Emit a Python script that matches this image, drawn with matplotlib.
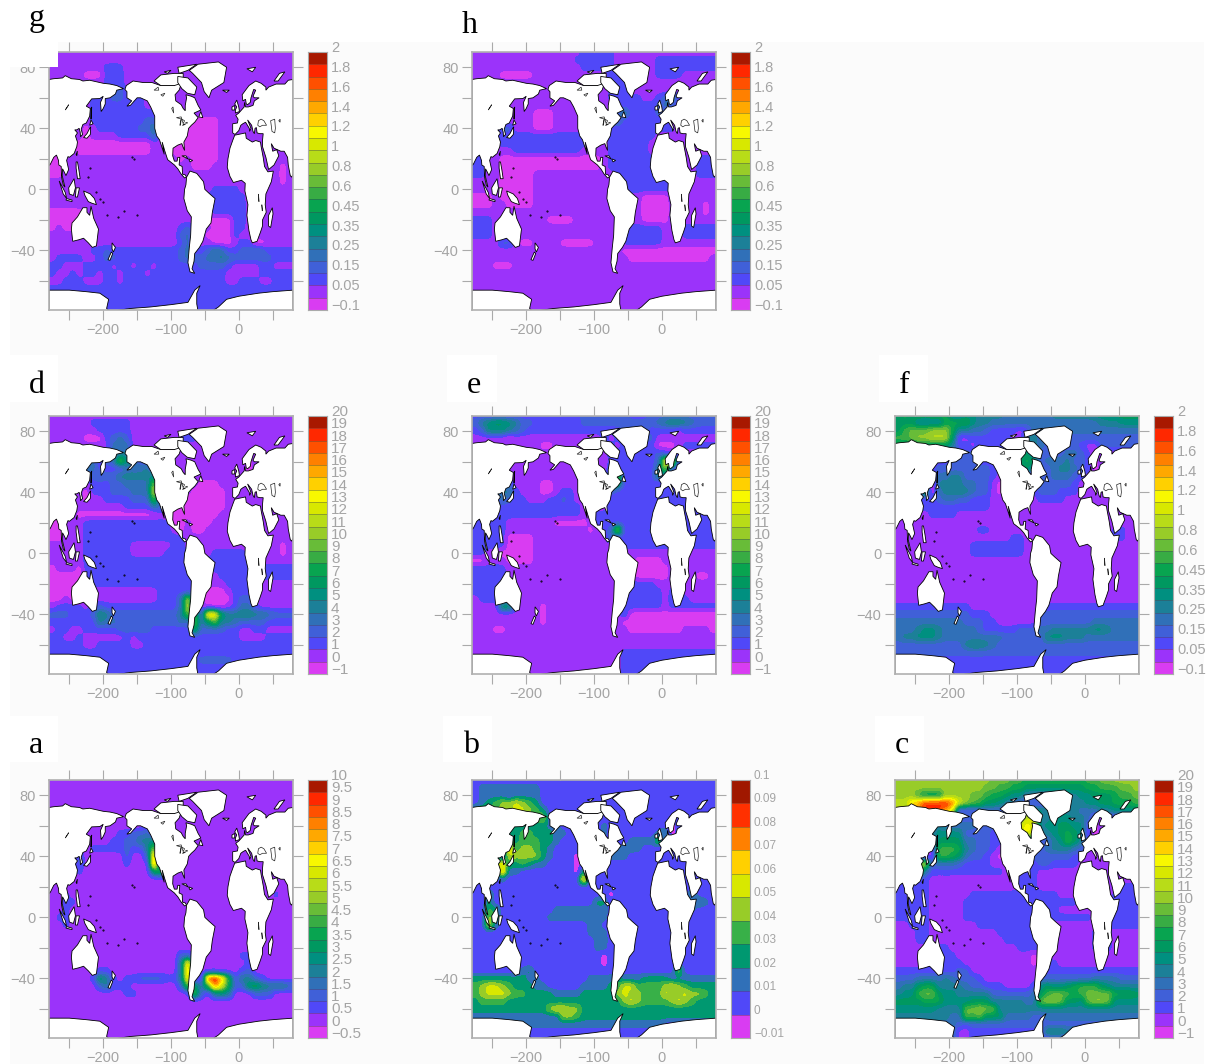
"""
Eight global ocean maps (a-h), one colour bar each.
Fields are read off the picture on a coarse grid: one character per node = colour band index.
"""

import numpy as np
import matplotlib
matplotlib.use("Agg")
import matplotlib.pyplot as plt
from matplotlib.colors import ListedColormap, BoundaryNorm
from matplotlib.patches import Rectangle, Polygon

W, H = 1210, 1064
plt.rcParams["font.family"] = ["Liberation Sans", "DejaVu Sans"]

# grid: rows run from 90N down to 80S every 5 deg, 36 columns from -275 to 75
# short rows are continued with their last character

FIELD_A = ["1", "1", "1", "1", "1", "1", "1",
    "1"*10 + "22334" + "1",
    "1"*9 + "2233556" + "1",
    "111111" + "222" + "22" + "3" + "22" + "5" + "b" + "1",
    "1111" + "3" + "111111" + "3" + "11" + "3" + "h" + "1",
    "1111" + "3" + "111111" + "2" + "111" + "i" + "2" + "1",
    "1111" + "2" + "1"*10 + "7" + "9" + "1",
    "1", "1",
    "112" + "1"*30 + "21",
    "1122" + "1", "1121", "1221", "1121", "1", "1", "1",
    "1"*19 + "33" + "1"*7 + "22" + "1",
    "1"*19 + "5g" + "1"*8 + "2" + "1",
    "1"*7 + "22" + "1"*10 + "5h" + "1"*7 + "23" + "1",
    "111111" + "2752" + "1" + "22333322" + "5g" + "11" + "jkg9" + "2" + "55" + "3" + "21",
    "1"*7 + "35222" + "1"*7 + "3a749hd8" + "33786555" + "4",
    "1"*11 + "22" + "1"*8 + "a3" + "1" + "565" + "111" + "333" + "1",
    "1", "1", "1", "1", "1", "1"]

FIELD_B = ["1",
    "1222222222" + "1",
    "1222212222" + "1",
    "1234556543" + "1",
    "4444556654" + "3" + "1",
    "333333333452" + "1",
    "33333" + "233333" + "22" + "1"*6 + "2" + "1"*9 + "0" + "1",
    "33333" + "3344333" + "22" + "11111" + "2" + "1"*7 + "23" + "0" + "1",
    "33333" + "4" + "344433" + "2" + "1"*10 + "2222" + "4" + "1",
    "33333" + "7" + "455432" + "1"*9 + "2222" + "1",
    "333" + "5065" + "5553" + "2" + "111" + "0" + "1111" + "222" + "1",
    "333" + "573" + "3432" + "2" + "1111" + "0" + "1",
    "222" + "2" + "8" + "22" + "1"*8 + "0" + "3" + "1",
    "11112" + "1"*11 + "8" + "1",
    "1",
    "113" + "1"*17 + "0" + "1"*11 + "3" + "1",
    "113" + "1"*15 + "33" + "1"*13 + "32" + "1",
    "1143" + "1"*8 + "2"*8 + "1"*12 + "2" + "1",
    "1154" + "1"*7 + "2"*8 + "2" + "1",
    "1162" + "1"*13 + "22" + "1",
    "1"*17 + "222" + "1",
    "1"*18 + "22" + "1",
    "1"*18 + "22" + "1",
    "1"*19 + "0" + "1",
    "1"*19 + "0" + "1",
    "1"*7 + "23" + "1"*21 + "5" + "1",
    "33333333" + "22" + "1"*7 + "2222" + "3" + "222333322" + "2",
    "456654" + "333" + "22" + "111112" + "222" + "3" + "466" + "4444" + "5654" + "3",
    "4" + "56665" + "443333" + "22223333" + "3" + "565" + "5" + "444" + "65" + "565" + "543",
    "344443" + "3"*16 + "565" + "444" + "456543" + "33",
    "3"*11 + "5665" + "53" + "3",
    "2"*13 + "554" + "3",
    "2"*28 + "1",
    "1", "1"]

FIELD_C = ["bbbbbbbbbbbbbbaaa9988888888899aabbbb",
    "bbbbbbbbbbbbbaa998877777777788999aab",
    "bbb9777bbbbaa9887664433335566777899a",
    "ccfgjjjjhdba977654322233445566778889",
    "ccdhjjjhe" + "2223" + "333333" + "766" + "55" + "5554" + "445" + "56666",
    "3333333" + "33" + "333" + "33" + "3333" + "ad" + "d" + "5" + "5" + "6" + "6655" + "4" + "1" + "1",
    "5555555" + "4" + "4444" + "3333" + "33" + "ded" + "566" + "7766" + "2" + "0" + "1",
    "555555" + "6666" + "3333" + "22" + "22" + "eed" + "4" + "5" + "678" + "76" + "2" + "0" + "1",
    "222222" + "7777" + "4433" + "22" + "22222" + "3" + "3" + "5" + "69" + "75" + "2" + "1",
    "111111" + "9998" + "5433" + "21" + "11111" + "3" + "45" + "55" + "43" + "2" + "1",
    "11111" + "1" + "9987" + "4332" + "10" + "1111" + "33333322" + "1",
    "222" + "cc" + "3" + "4443" + "2222" + "111" + "111" + "2" + "3322" + "22" + "1",
    "222" + "b4" + "2222" + "2222" + "222" + "1" + "11" + "2" + "2" + "1",
    "22222" + "1"*13 + "22" + "2" + "1",
    "22222" + "1"*13 + "222" + "1"*12 + "222",
    "22222" + "1"*6 + "2"*7 + "2"*6 + "1"*8 + "2222",
    "22222" + "11111" + "2"*10 + "2"*7 + "11111" + "2222",
    "22222" + "11111" + "2"*10 + "2222" + "111" + "11111" + "2222",
    "22222" + "11111" + "2"*10 + "2"*9 + "111" + "2222",
    "11222" + "1"*7 + "2"*8 + "22" + "1"*10 + "2222",
    "11122" + "1"*10 + "2"*5 + "22" + "1"*7 + "222" + "1111",
    "11122" + "1"*11 + "2222" + "22" + "1"*7 + "222" + "1111",
    "11111" + "222" + "1"*10 + "22" + "22" + "1"*7 + "222" + "1111",
    "11111" + "2222" + "1"*11 + "0" + "1",
    "11111" + "22222" + "1"*10 + "0" + "1" + "22" + "1",
    "2"*9 + "33" + "1"*10 + "2",
    "3334444" + "54" + "3332" + "1"*7 + "1" + "3333333" + "3" + "4444" + "333",
    "455788" + "55" + "55" + "433" + "222" + "1111" + "2" + "67" + "66" + "78" + "99" + "9" + "765" + "555",
    "5669aa" + "766" + "555" + "55" + "33" + "3333" + "4" + "79aa98" + "9a" + "aaa" + "888" + "7",
    "7777888" + "6666" + "777" + "55555" + "44" + "abba" + "776" + "ab" + "ba" + "6666",
    "666666" + "5555" + "aabaa" + "5",
    "5"*8 + "44" + "a9a" + "777" + "4444" + "33" + "4",
    "4"*9 + "3233" + "3",
    "4"*9 + "112" + "2"*10 + "66655" + "4",
    "4"*9 + "112" + "2"]

FIELD_D = ["1",
    "111111222222" + "1",
    "111111122222" + "1",
    "11111" + "000" + "2" + "34" + "3" + "1"*7 + "222" + "1",
    "1"*9 + "444" + "1",
    "1"*8 + "3" + "44" + "5" + "1",
    "11111" + "44" + "2" + "3" + "4" + "a" + "6" + "4" + "3" + "2" + "1"*14 + "0" + "1",
    "11111" + "44" + "2222" + "4445" + "2" + "1"*13 + "0" + "1",
    "11111" + "2" + "34" + "33" + "55" + "555" + "6" + "1",
    "111111" + "2" + "223" + "34" + "444" + "b" + "1"*6 + "000" + "1",
    "11111" + "0" + "222" + "33" + "344" + "4" + "d" + "1" + "1"*4 + "00000" + "1",
    "11111" + "0" + "112" + "22" + "233" + "3" + "a" + "1" + "111" + "000000" + "1",
    "111111" + "111" + "1122" + "22" + "44" + "1" + "00" + "000000" + "1",
    "11110" + "0"*10 + "0" + "1" + "000" + "00000" + "1",
    "0011" + "1" + "2"*10 + "222" + "00" + "1" + "000" + "1",
    "00111" + "2"*13 + "1" + "0" + "1" + "00" + "1",
    "00111" + "2"*13 + "22" + "1",
    "11111" + "2"*7 + "1"*6 + "22" + "1"*14 + "0" + "1",
    "11111" + "2"*7 + "11111" + "222" + "2" + "111" + "22222" + "111" + "11" + "0" + "1",
    "11111" + "2"*14 + "2" + "2" + "2" + "2"*8 + "111111",
    "01110" + "2"*15 + "22" + "2"*8 + "1" + "22222",
    "00000" + "2"*15 + "22" + "2" + "11" + "2222" + "2" + "1" + "22222",
    "00000" + "1" + "2"*14 + "22" + "2" + "111" + "222" + "2" + "1",
    "00000" + "11" + "1"*9 + "2222" + "22" + "1" + "000" + "1" + "22" + "2" + "1",
    "00100" + "11" + "1"*9 + "222" + "4c" + "11" + "000" + "0" + "2" + "33" + "1",
    "12222" + "1232" + "2" + "2"*9 + "4d" + "11" + "000" + "1" + "2" + "44" + "2" + "1",
    "3332" + "22" + "3" + "65" + "3" + "3"*9 + "5a9" + "3" + "gf7" + "55" + "66" + "55" + "43" + "3",
    "2222" + "222" + "54" + "4" + "3"*9 + "43a4" + "7a5" + "54" + "3333" + "2",
    "12211" + "2222" + "2" + "3" + "3333" + "22222" + "2" + "83" + "333" + "22" + "1122" + "1",
    "22112" + "1" + "111" + "11" + "2" + "1" + "2"*7 + "222" + "2"*5 + "1111" + "2",
    "2"*5 + "11222" + "22" + "11" + "2",
    "2", "2"*22 + "33333" + "2", "2", "2"]

FIELD_E = ["2"*16 + "3"*7 + "222" + "33333" + "3",
    "3567765332" + "2"*6 + "33333" + "3" + "33333" + "4566" + "543" + "3",
    "2366654322" + "2"*12 + "3" + "33" + "3" + "2222" + "1" + "2",
    "1"*5 + "0" + "1"*13 + "2" + "1" + "2" + "22" + "333" + "1",
    "1"*10 + "00" + "1"*7 + "2" + "21" + "22" + "222" + "0" + "00" + "1" + "2",
    "1"*20 + "2" + "2222" + "22" + "3" + "2" + "1",
    "1"*20 + "222" + "2222" + "3" + "e" + "h" + "2" + "1",
    "1"*20 + "2"*6 + "2" + "5" + "b" + "3" + "1",
    "1"*20 + "7b" + "22222" + "6" + "3" + "1",
    "111" + "1" + "2" + "3" + "1111" + "00" + "1"*8 + "c8" + "22222" + "1" + "2",
    "111" + "355" + "2" + "11" + "1" + "00" + "12" + "2" + "1" + "1111" + "3" + "2",
    "222" + "343" + "22" + "11" + "1" + "22" + "3" + "2" + "1" + "1111" + "2",
    "2"*16 + "1"*4 + "2",
    "2"*16 + "11" + "2",
    "22222" + "11111" + "11" + "0000" + "0" + "1" + "2",
    "22222" + "1"*12 + "0" + "1" + "2" + "3" + "c" + "2222" + "3" + "2",
    "22222" + "0000" + "1"*11 + "4" + "2",
    "22222" + "0000" + "1"*12 + "2",
    "2211" + "00000" + "1"*12 + "1",
    "00111" + "0000" + "1"*15 + "0000" + "1",
    "22222" + "1"*19 + "00000" + "1",
    "22222" + "1"*19 + "00000" + "1111" + "00" + "1",
    "22222" + "1"*17 + "22222" + "1"*3 + "2" + "1",
    "22222" + "1"*17 + "222222" + "1" + "22" + "1",
    "12222" + "1"*17 + "222222" + "1" + "222" + "11" + "1",
    "1111" + "77" + "2" + "111" + "0" + "1"*11 + "222222" + "1" + "2",
    "1"*10 + "0" + "1"*11 + "3" + "0",
    "1"*10 + "0" + "1"*11 + "0",
    "111" + "00" + "1"*18 + "0"*8 + "1111" + "0",
    "1", "1",
    "1"*22 + "2", "1"*22 + "2", "1"*22 + "2", "1"*22 + "2"]

FIELD_F = ["7878788" + "8" + "5566" + "5555" + "44444" + "4455555" + "5" + "6677777",
    "777" + "5555" + "8888" + "6554" + "444444" + "444444444" + "555666",
    "7" + "9aaab" + "bb" + "85" + "54" + "4" + "322" + "22" + "1" + "2" + "444" + "3" + "4",
    "99" + "abbcc" + "c" + "7" + "11" + "22" + "2222" + "11" + "55" + "4" + "3",
    "7777" + "7777" + "5" + "22" + "1" + "2" + "222222" + "55" + "4" + "33333" + "2" + "11" + "3",
    "3"*18 + "67" + "4" + "3" + "333" + "44" + "3" + "2" + "0" + "1",
    "222222" + "22" + "33" + "33" + "22" + "222" + "2" + "787" + "3" + "44" + "45" + "33" + "2" + "0" + "1",
    "222222" + "3333" + "3333" + "22" + "22" + "67" + "5" + "2" + "3" + "4" + "55" + "4" + "3" + "2" + "0" + "1",
    "22222" + "1" + "4455" + "3333" + "21" + "11111" + "33" + "44" + "4" + "3" + "2" + "1",
    "11111" + "0" + "5555" + "4433" + "10" + "11111" + "3" + "333" + "3" + "2" + "1",
    "111" + "29" + "0" + "4556" + "5433" + "1" + "0" + "1111" + "2" + "333" + "222" + "1",
    "1112" + "22" + "3443" + "3222" + "111" + "111" + "1" + "2222" + "1",
    "11122" + "2"*9 + "1",
    "11111" + "2222" + "1",
    "1",
    "1"*12 + "22" + "1"*18 + "22" + "1",
    "1"*17 + "22" + "1"*13 + "22" + "1",
    "1"*11 + "2"*8 + "1",
    "1"*11 + "2"*8 + "1",
    "1", "1", "1", "1", "1", "1",
    "2"*11 + "1"*11 + "2",
    "3"*11 + "222" + "1"*7 + "3",
    "4"*10 + "33322" + "11111" + "1" + "3"*8 + "4",
    "444" + "566" + "5" + "44444" + "3" + "22222" + "33" + "3" + "44" + "55" + "555" + "566" + "5" + "4",
    "455" + "666" + "54" + "4" + "4"*7 + "3333" + "33" + "66" + "6" + "55" + "5" + "4",
    "3"*10 + "566" + "54" + "3",
    "3", "2", "2", "2"]

FIELD_G = ["1", "1",
    "1"*8 + "222" + "1",
    "11111000" + "222" + "1",
    "1"*8 + "222" + "1",
    "1"*9 + "33" + "2" + "1",
    "111111" + "222" + "33" + "222" + "1",
    "111111" + "2"*8 + "1",
    "111111" + "2"*9 + "2" + "1",
    "111111" + "2"*8 + "33" + "1"*5 + "0000" + "1",
    "11111" + "0" + "1" + "22222" + "2" + "33" + "5" + "1111" + "00000" + "1",
    "11111" + "0" + "1" + "1" + "11" + "2222" + "2" + "4" + "111" + "1" + "00000" + "1",
    "11110" + "0"*10 + "1" + "11" + "00" + "00000" + "1",
    "11110" + "0"*10 + "111" + "00" + "00000" + "1",
    "00111" + "1"*13 + "1" + "0" + "1" + "0000" + "1",
    "00" + "1"*19 + "000" + "1"*10 + "0" + "1",
    "00" + "1"*32 + "0" + "1",
    "1"*34 + "0" + "1",
    "1"*24 + "2222" + "1",
    "1"*23 + "222222" + "1",
    "1"*22 + "2222222" + "1",
    "00000" + "1"*17 + "2" + "1" + "22222" + "1",
    "00000" + "1"*17 + "1" + "0" + "000" + "22" + "1",
    "01000" + "1"*14 + "2" + "3" + "111" + "000" + "22" + "1",
    "1"*19 + "34" + "11" + "0000" + "2" + "1",
    "1"*19 + "24" + "111" + "000" + "1" + "22" + "00" + "1",
    "111111" + "22" + "3" + "2" + "2"*9 + "34" + "22" + "354" + "22" + "33" + "4" + "3" + "2",
    "1222211" + "233" + "2"*9 + "34" + "33" + "445" + "43" + "333" + "33" + "2",
    "22111" + "22" + "22" + "1" + "22" + "1" + "22" + "1" + "22222" + "2" + "3" + "333" + "2" + "1111" + "22" + "1",
    "21121221221" + "2221" + "2"*11 + "11111" + "2",
    "11222111221" + "2"*15 + "11" + "222" + "11" + "2",
    "2", "2", "2", "2"]

FIELD_H = ["1"*16 + "22222" + "1",
    "1"*15 + "2"*6 + "1"*6 + "2",
    "1"*16 + "2"*5 + "1"*6 + "2",
    "1111" + "00000" + "1"*11 + "22" + "1"*5 + "2222" + "1",
    "1"*20 + "222" + "1",
    "1"*20 + "222" + "1",
    "1"*20 + "2222" + "2" + "11" + "2" + "3" + "6" + "2" + "1",
    "1"*21 + "2222" + "22" + "3" + "4" + "3" + "1",
    "1"*9 + "000" + "1"*8 + "2" + "3" + "5" + "22" + "22" + "3" + "2" + "1",
    "1"*9 + "000" + "1"*8 + "3" + "4" + "2" + "2"*6 + "1",
    "1111" + "33" + "1" + "11" + "000" + "1"*8 + "2"*10 + "1",
    "1112" + "22" + "2"*11 + "111" + "2"*6 + "2" + "1",
    "1111" + "22" + "2"*11 + "111" + "2"*6 + "1",
    "111111" + "2"*10 + "111" + "1" + "2"*6 + "1",
    "2211" + "0"*15 + "1" + "2"*6 + "2" + "1"*6 + "222",
    "2211" + "0"*15 + "1" + "2"*5 + "2" + "2" + "1"*6 + "222",
    "2211" + "00000" + "1"*11 + "1" + "2"*6 + "1"*6 + "222",
    "1111" + "00000" + "1"*12 + "2"*8 + "1",
    "1111" + "00000" + "1"*14 + "2" + "22" + "2222" + "1",
    "0001" + "00000" + "1"*16 + "0000" + "1",
    "00011" + "0000" + "1"*16 + "0000" + "1"*5 + "0" + "1",
    "1"*25 + "0000" + "1"*5 + "0" + "1",
    "222" + "1"*8 + "0000" + "1"*10 + "0000" + "1",
    "222" + "1"*19 + "22222" + "2" + "111" + "2",
    "222" + "1"*19 + "22222" + "2" + "111" + "2",
    "1111" + "33" + "1" + "00" + "1111" + "0000" + "0" + "1111" + "22222" + "2" + "1",
    "1"*22 + "0",
    "1"*23 + "0"*12 + "1",
    "111" + "000" + "1",
    "1", "1", "1", "1", "1", "1"]

LABELS_10 = ["10", "9.5", "9", "8.5", "8", "7.5", "7", "6.5", "6", "5.5", "5", "4.5", "4",
             "3.5", "3", "2.5", "2", "1.5", "1", "0.5", "0", "\u22120.5"]
LABELS_20 = ["20", "19", "18", "17", "16", "15", "14", "13", "12", "11", "10", "9", "8", "7",
             "6", "5", "4", "3", "2", "1", "0", "\u22121"]
LABELS_2 = ["2", "1.8", "1.6", "1.4", "1.2", "1", "0.8", "0.6", "0.45", "0.35", "0.25",
            "0.15", "0.05", "\u22120.1"]
LABELS_01 = ["0.1", "0.09", "0.08", "0.07", "0.06", "0.05", "0.04", "0.03", "0.02", "0.01",
             "0", "\u22120.01"]

# colour bands, bottom to top
COLORS_21 = ["#d93cf2", "#9b33fa", "#5048f8", "#4060d8", "#3070b8", "#1c8098", "#009080",
             "#009860", "#08a450", "#38ac44", "#68bc38", "#98cc28", "#b8dc18", "#d8e800",
             "#f8f800", "#ffd000", "#ffa800", "#ff8000", "#ff5000", "#ff2800", "#a81800"]
COLORS_11 = ["#d93cf2", "#5048f8", "#3070b8", "#009870", "#38b048", "#98cc28", "#d8e800",
             "#ffd000", "#ff8000", "#ff3000", "#a01800"]

# coast, lon/lat
EAST_LAND = [  # given in degrees east, moved by -360 when drawn
    [(80,72),(87,72.5),(100,73),(104,74.5),(113,72.5),(125,72),(130,71),(140,71.5),(150,70.5),(160,69.5),(170,69),(180,68),(190,66),
     (180,65),(178,62.5),(170,60),(163,59.5),(163,56),(160,53),(157,51),(156,57),(160,61),(155,59.5),(143,59.3),(135,54.5),(141,53),
     (140,48),(135,43.5),(130,42.5),(127.5,39.5),(129.5,36),(126.5,34.5),(126,37.5),(124.5,40),(121,39),(118,39),(122,37),(119,35),
     (122,31),(121,28),(117,23.5),(110,21),(108,21.5),(106,19),(109,13),(105,9),(103,11),(100,13.5),(99.5,9),(103.5,1.5),(101,3),
     (98.5,8),(98,15),(94.5,16),(94,19),(91,22.5),(87,21),(82,16.5),(80,15.5)],
    [(114,-22),(122,-18),(130,-12),(136,-12),(136,-15),(140,-17),(142,-11),(146,-19),(153,-26),(150,-37),(144,-38),(138,-35),(131,-32),(124,-33),(115,-34),(113,-26)],
    [(173,-35),(178,-38),(175,-41),(173,-39)],
    [(172,-41),(174,-42),(170,-46.5),(167,-46)],
    [(131,-1),(141,-3),(147,-6),(150,-10),(143,-9),(138,-8),(133,-4)],
    [(109,1),(117,7),(119,1),(116,-4),(110,-3)],
    [(95,5.5),(104,-2),(106,-6),(101,-3)],
    [(105,-7),(114,-8),(114,-7),(106,-6)],
    [(120,1),(125,1),(122,-5),(119,-5)],
    [(120,18),(122,18),(124,13),(126,7),(122,7),(120,14)],
    [(131,34),(136,33.5),(141,36),(141.5,41),(140,40),(136,36.5)],
    [(140,42),(145,43),(142,45.5)],
    [(142,46),(143,54),(142,53)],
    [(120,23),(122,25),(121,22)],
]
WEST_LAND = [
    [(80,72),(73,71.5),(68,69),(55,69),(44,67),(40,65),(40,67),(33,69.5),(25,71),(15,68),(5,62),(6,58),(10,59),(11,56),(13,55.5),(17,57),(18,60),
     (22,65.5),(25,65),(21,61),(23,60),(30,60),(23,58),(21,55),(14,54),(10,54),(8.5,57),(8,54),(4,52),(0,50),(-4.5,48.5),(-1,46),(-2,43.5),
     (-9,43),(-9,37),(-5.5,36),(0,38.5),(3,42),(6,43),(10,44),(15.5,40),(16,38),(18,40),(13,45.5),(19,42),(21,38),(23,36.5),(24,40),(26,40.5),
     (27,37),(31,36.5),(36,36.5),(35,32),(35,28),(40,21),(44,13),(52,16),(59,22),(56,26),(50,25),(48,30),(52,27),(57,26),(62,25),(67,25),
     (72,21),(73,16),(76,9),(78,8),(80,10),(80,15.5)],
    [(-6,35.5),(10,37),(11,33.5),(20,31),(25,32),(32,31),(33,28),(36,21),(38,15),(43,11.5),(51,12),(48,5),(40,-3),(39,-10),(40.5,-15),(35,-20),
     (35,-24),(32,-28),(27,-34),(20,-35),(18,-33),(15,-27),(12,-17),(13.5,-10),(9,-1),(9.5,4),(4,6),(-4,5),(-8,4.5),(-13,8.5),(-17,14.5),(-16,20),(-13,27),(-9,32)],
    [(49.5,-12),(50.5,-16),(47,-25),(44,-24),(44,-17)],
    [(-168,65.5),(-166,68),(-156,71),(-141,70),(-128,70),(-115,68),(-95,68),(-94,72),(-85,72),(-85,69),(-88,65),(-94,62),(-93,58),(-85,55.5),(-82,53),
     (-79,51.5),(-79,55),(-77,60),(-78,62),(-70,61),(-65,60),(-60,55),(-56,52),(-66,50),(-60,47),(-65,44),(-70,42),(-74,40),(-76,35),(-81,31),
     (-80,25.5),(-82.5,28),(-84,30),(-90,29),(-97,27),(-97.5,22),(-95,18.5),(-91,18.5),(-90,21),(-87,21),(-88,16),(-83.5,15),(-83,10),(-79,9.5),
     (-77,8),(-80,7.5),(-85,10),(-90,13.5),(-95,16),(-105,19.5),(-109,25),(-113,31),(-110,23),(-117,32.5),(-121,35),(-124,40),(-124,48),
     (-130,54),(-135,58),(-145,60),(-150,60),(-160,55),(-165,54.5),(-158,58),(-165,60),(-165,64)],
    [(-77,8),(-72,12),(-62,10.5),(-52,5),(-50,0),(-44,-2.5),(-35,-6),(-39,-15),(-41,-22),(-48,-26),(-53,-34),(-58,-38),(-65,-42),(-66,-47),
     (-69,-52),(-65,-55),(-72,-54),(-75,-48),(-73,-38),(-71,-30),(-70,-18),(-76,-14),(-81,-6),(-80,0),(-78,3)],
    [(-73,78),(-60,82),(-30,83.5),(-18,80),(-22,70),(-40,65),(-44,60),(-51,64),(-55,70),(-68,76)],
    [(-125,71),(-115,75),(-95,76),(-82,76),(-82,70),(-95,68),(-115,68)],
    [(-90,74),(-75,73),(-62,67),(-65,62),(-76,63),(-84,66),(-90,70)],
    [(-90,80),(-62,82),(-75,78),(-88,76)],
    [(-110,77),(-100,78),(-105,76)],
    [(-59,47.5),(-53,47),(-56,51)],
    [(-84,22),(-75,20),(-78,22)],
    [(-74,20),(-68,19),(-72,18)],
    [(-24,65),(-14,65),(-18,63.5)],
    [(-5,50),(1,51),(0,54),(-3,58.5),(-6,56),(-3,54),(-5,52)],
    [(-10,52),(-6,52),(-6,55),(-10,54)],
    [(12,79),(25,80),(20,77)],
    [(52,71),(58,71),(68,77),(60,76)],
    [(-280,-66),(-250,-66),(-225,-67),(-205,-68),(-192,-72),(-195,-78),(-190,-80),(-160,-78),(-130,-77),(-100,-75.5),(-75,-74),
     (-65,-66),(-57,-63),(-62,-68),(-62,-75),(-60,-80),(-40,-80),(-30,-77),(-18,-72),(0,-70),(29,-68),(50,-67),(80,-66),(80,-82),(-280,-82)],
]
LAKES = [
    [(28,42),(29,45),(33,46),(37,45),(41,42),(35,42),(31,41)],
    [(47,45),(53,46),(54,40),(53,37),(49,38)],
    [(59,45),(61,46),(61,44)],
    [(-92,47),(-85,47.5),(-84,46),(-88,46.5)],
    [(-87,42),(-85,46),(-86,42)],
    [(-84,46),(-80,45),(-82,43)],
    [(-83,42),(-79,43),(-79,42.5)],
    [(-79,43.5),(-76,44),(-76,43.3)],
    [(-125,65),(-119,67),(-118,65)],
    [(-115,62),(-109,63),(-112,61)],
    [(-99,53),(-97,54),(-96,50)],
    [(29,-3),(30,-8),(29.5,-8)],
    [(34,-10),(35,-14),(34.5,-14)],
    [(-256,52),(-251,55.5),(-251.5,55)],
]
ISLANDS = [(-170,-14),(-178,-18),(-194,-17),(-200,-8),(-205,-6),(-210,-2),(-155,20),(-157,21),(-150,-17),(-219,14),(-222,8)]

PANELS = [
    ("g", FIELD_G, COLORS_21, LABELS_2, 49, 52, 29, 26, 10.5),
    ("h", FIELD_H, COLORS_21, LABELS_2, 472, 52, 462, 33, 10.5),
    ("d", FIELD_D, COLORS_21, LABELS_20, 49, 416, 29, 393, 11),
    ("e", FIELD_E, COLORS_21, LABELS_20, 472, 416, 467, 393, 11),
    ("f", FIELD_F, COLORS_21, LABELS_2, 895, 416, 899, 393, 10.5),
    ("a", FIELD_A, COLORS_21, LABELS_10, 49, 780, 29, 753, 11),
    ("b", FIELD_B, COLORS_11, LABELS_01, 472, 780, 463, 753, 8.5),
    ("c", FIELD_C, COLORS_21, LABELS_20, 895, 780, 895, 753, 11),
]
AX_W, AX_H = 244, 258


def add_axes(x, y, w, h):
    return fig.add_axes([x / W, 1 - (y + h) / H, w / W, h / H])


def decode(rows):
    out = []
    for row in rows:
        row = row.ljust(36, row[-1])[:36]
        out.append([int(c, 36) for c in row])
    return np.array(out, dtype=float)


fig = plt.figure(figsize=(W / 100, H / 100), dpi=100, facecolor="white")

# pale page behind the maps, white tabs behind the letters
fig.add_artist(Rectangle((10 / W, 0), 1194 / W, 1 - 42 / H, transform=fig.transFigure,
                         facecolor="#fbfbfb", edgecolor="none", zorder=-5))
TABS = [(0, 0, 58, 67), (0, 355, 58, 47), (447, 355, 50, 47), (879, 355, 49, 47),
        (0, 716, 58, 46), (443, 716, 49, 46), (875, 716, 49, 46)]
for tx, ty, tw, th in TABS:
    fig.add_artist(Rectangle((tx / W, 1 - (ty + th) / H), tw / W, th / H, transform=fig.transFigure,
                             facecolor="white", edgecolor="none", zorder=5))

for name, rows, colors, labels, x0, y0, lx, ly, lab_size in PANELS:
    ax = add_axes(x0, y0, AX_W, AX_H)
    ax.patch.set_alpha(0)
    vals = decode(rows)
    n = len(colors)
    cmap = ListedColormap(colors)
    norm = BoundaryNorm(np.arange(n + 1) - 0.5, n)
    ax.imshow(vals, extent=(-280, 80, -82.5, 92.5), aspect="auto", cmap=cmap, norm=norm,
              interpolation="gaussian", interpolation_stage="data", zorder=1)

    for poly in EAST_LAND:
        pts = [(a - 360, b) for a, b in poly]
        ax.add_patch(Polygon(pts, closed=True, facecolor="white", edgecolor="black", linewidth=0.6, zorder=2))
    for poly in WEST_LAND:
        ax.add_patch(Polygon(poly, closed=True, facecolor="white", edgecolor="black", linewidth=0.6, zorder=2))
    for poly in LAKES:
        ax.add_patch(Polygon(poly, closed=True, facecolor="white", edgecolor="#222222", linewidth=0.5, zorder=3))
    ax.plot([p[0] for p in ISLANDS], [p[1] for p in ISLANDS], ls="", marker=".", ms=1, color="black", zorder=3)

    ax.set_xlim(-280, 80)
    ax.set_ylim(-79, 90)
    ax.set_xticks(range(-250, 51, 50))
    ax.set_xticklabels(["", "\u2212200", "", "\u2212100", "", "0", ""])
    ax.set_yticks(range(-60, 81, 20))
    ax.set_yticklabels(["", "\u221240", "", "0", "", "40", "", "80"])
    ax.tick_params(top=True, right=True, direction="out", length=7.2, width=0.8, color="#aaaaaa",
                   labelcolor="#a4a4a4", labelsize=10.5, pad=2.5)
    for sp in ax.spines.values():
        sp.set_color("#b0b0b0")
        sp.set_linewidth(1.2)

    # colour bar
    cax = add_axes(x0 + 259, y0, 19, AX_H)
    cax.pcolormesh([0, 1], np.arange(n + 1), np.arange(n).reshape(-1, 1), cmap=cmap, norm=norm)
    cax.hlines(np.arange(1, n), 0, 1, color="#444444", linewidth=0.4, alpha=0.7)
    cax.set_xlim(0, 1)
    cax.set_ylim(0, n)
    cax.set_xticks([])
    cax.set_yticks([])
    for sp in cax.spines.values():
        sp.set_color("#aaaaaa")
        sp.set_linewidth(0.8)
    for k, lab in enumerate(labels):
        py = y0 - 4 + k * AX_H / (len(labels) - 1)
        fig.text((x0 + 282) / W, 1 - py / H, lab, color="#a4a4a4", fontsize=lab_size, ha="left", va="center", zorder=6)

    fig.text(lx / W, 1 - ly / H, name, family="Liberation Serif", fontsize=23, color="black",
             ha="left", va="baseline", zorder=6)

fig.savefig("out.png", dpi=100)
